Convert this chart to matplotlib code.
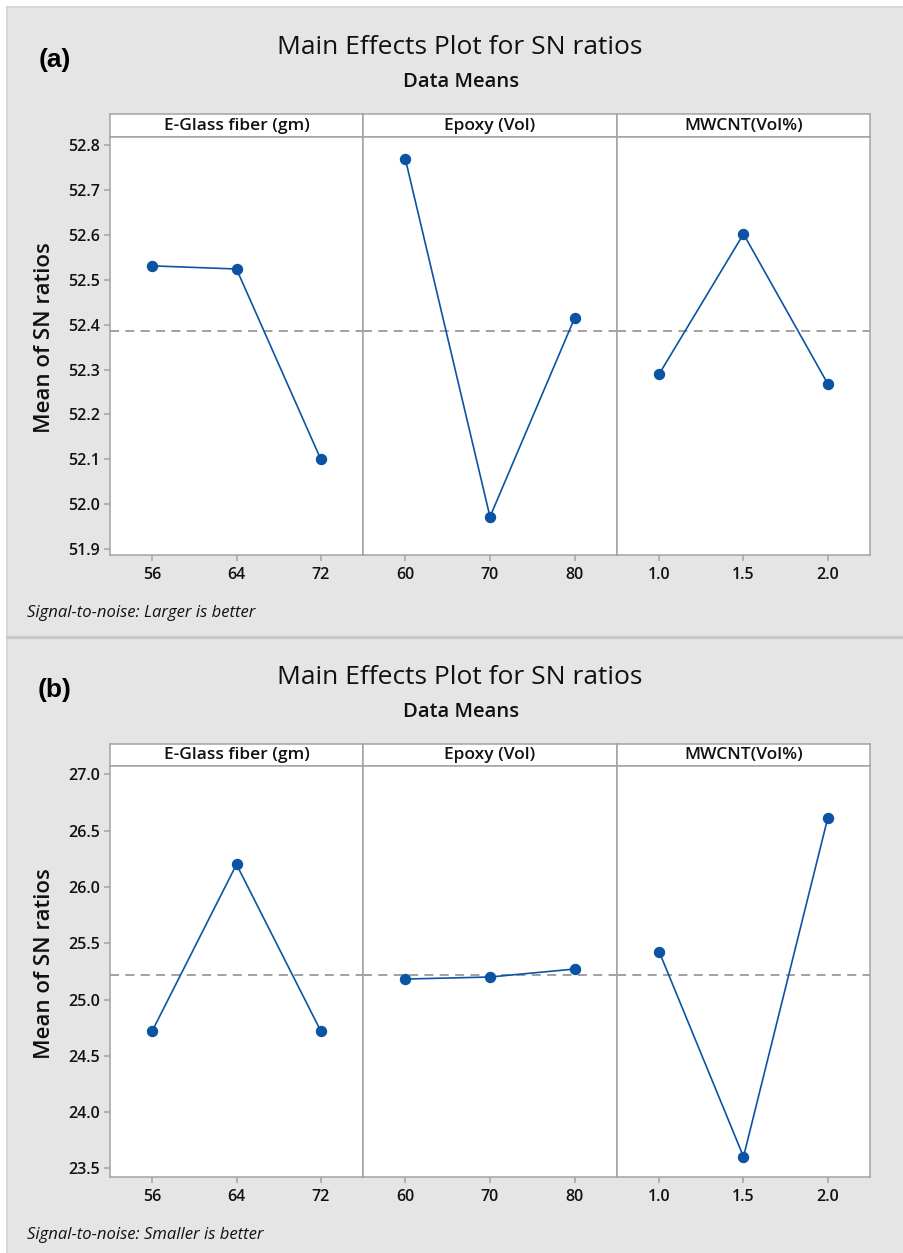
"""
Main effects plots for SN ratios (Taguchi design): E-Glass fiber, Epoxy, MWCNT.
Two stacked panels, Minitab-style: grey backdrop, strip headers, dashed grand mean.
"""
import numpy as np
import matplotlib
matplotlib.use("Agg")
import matplotlib.pyplot as plt
from matplotlib.lines import Line2D
from matplotlib.patches import Rectangle

plt.rcParams["font.family"] = ["Open Sans", "DejaVu Sans"]

FACTORS = ["E-Glass fiber (gm)", "Epoxy (Vol)", "MWCNT(Vol%)"]
LEVELS = [["56", "64", "72"], ["60", "70", "80"], ["1.0", "1.5", "2.0"]]

# (a) larger is better
SN_A_EGLASS = [52.531, 52.524, 52.100]
SN_A_EPOXY = [52.769, 51.972, 52.415]
SN_A_MWCNT = [52.290, 52.602, 52.268]
YTICKS_A = [51.9, 52.0, 52.1, 52.2, 52.3, 52.4, 52.5, 52.6, 52.7, 52.8]
YLIM_A = (51.887, 52.818)

# (b) smaller is better
SN_B_EGLASS = [24.72, 26.20, 24.72]
SN_B_EPOXY = [25.182, 25.200, 25.271]
SN_B_MWCNT = [25.425, 23.604, 26.615]
YTICKS_B = [23.5, 24.0, 24.5, 25.0, 25.5, 26.0, 26.5, 27.0]
YLIM_B = (23.424, 27.074)

W, H = 904, 1253
BG = "#e5e5e5"
FRAME = "#a3a3a3"
BLUE = "#0b54a4"
TXT = "#111111"


def fx(px):
    return px / W


def fy(py):
    return 1 - py / H


def draw_panel(fig, tag, series, yticks, ylim, top, strip_bot, bottom, title_y, foot_y, footnote):
    cols = [110, 363, 617, 870]
    grand = float(np.mean(np.concatenate([np.asarray(s) for s in series])))

    for i, (name, levels, vals) in enumerate(zip(FACTORS, LEVELS, series)):
        x0, x1 = cols[i], cols[i + 1]

        # strip header
        hdr = fig.add_axes([fx(x0), fy(strip_bot), fx(x1) - fx(x0), fy(top) - fy(strip_bot)])
        hdr.set_facecolor("white")
        hdr.set_xticks([])
        hdr.set_yticks([])
        for sp in hdr.spines.values():
            sp.set_color(FRAME)
            sp.set_linewidth(1.1)
        hdr.text(0.5, 0.48, name, ha="center", va="center", fontsize=12.5,
                 fontweight=600, color=TXT, transform=hdr.transAxes)

        ax = fig.add_axes([fx(x0), fy(bottom), fx(x1) - fx(x0), fy(strip_bot) - fy(bottom)])
        ax.set_facecolor("white")
        pos = np.arange(len(levels))
        ax.axhline(grand, color="#9a9a9a", lw=1.3, ls=(0, (5, 3.5)), zorder=1)
        ax.plot(pos, vals, color=BLUE, lw=1.2, marker="o", ms=7.2,
                mfc=BLUE, mec=BLUE, zorder=3)
        ax.set_xlim(-0.5, len(levels) - 0.5)
        ax.set_ylim(*ylim)
        ax.set_xticks(pos)
        ax.set_xticklabels(levels)
        ax.tick_params(axis="x", length=4, width=1.1, color=FRAME, pad=4.5,
                       labelsize=11.5, labelcolor=TXT)
        for lab in ax.get_xticklabels():
            lab.set_fontweight(600)
        if i == 0:
            ax.set_yticks(yticks)
            ax.set_yticklabels([f"{t:.1f}" for t in yticks])
            ax.tick_params(axis="y", length=4, width=1.1, color=FRAME, pad=3,
                           labelsize=11.5, labelcolor=TXT)
            for lab in ax.get_yticklabels():
                lab.set_fontweight(600)
        else:
            ax.set_yticks([])
        for sp in ax.spines.values():
            sp.set_color(FRAME)
            sp.set_linewidth(1.1)

    fig.text(fx(45), fy((strip_bot + bottom) / 2 - 8), "Mean of SN ratios", rotation=90,
             ha="center", va="center", fontsize=16, fontweight=600, color=TXT)
    fig.text(fx(460), fy(title_y), "Main Effects Plot for SN ratios", ha="center",
             va="center", fontsize=19, color=TXT)
    fig.text(fx(461), fy(title_y + 34), "Data Means", ha="center", va="center",
             fontsize=14.5, fontweight=600, color=TXT)
    fig.text(fx(55), fy(title_y + 12), tag, ha="center", va="center", fontsize=19,
             fontweight="bold", family=["Liberation Sans", "DejaVu Sans"], color="black")
    fig.text(fx(27), fy(foot_y), footnote, ha="left", va="center", fontsize=12,
             style="italic", color=TXT)


fig = plt.figure(figsize=(W / 100, H / 100), dpi=100, facecolor="white")

# grey backdrop with thin border and panel separator
fig.patches.append(Rectangle((fx(7), 0), 1 - fx(7), fy(7), transform=fig.transFigure,
                             facecolor=BG, edgecolor="none", zorder=-10))
fig.add_artist(Line2D([fx(7), 1], [fy(7), fy(7)], color="#d2d2d2", lw=1.2))
fig.add_artist(Line2D([fx(7), fx(7)], [0, fy(7)], color="#d2d2d2", lw=1.2))
fig.add_artist(Line2D([fx(7), 1], [fy(637), fy(637)], color="#c8c8c8", lw=2.3))

draw_panel(fig, "(a)", [SN_A_EGLASS, SN_A_EPOXY, SN_A_MWCNT], YTICKS_A, YLIM_A,
           top=114, strip_bot=137, bottom=555, title_y=48, foot_y=613,
           footnote="Signal-to-noise: Larger is better")
draw_panel(fig, "(b)", [SN_B_EGLASS, SN_B_EPOXY, SN_B_MWCNT], YTICKS_B, YLIM_B,
           top=744, strip_bot=766, bottom=1177, title_y=678, foot_y=1235,
           footnote="Signal-to-noise: Smaller is better")

fig.savefig("out.png", dpi=100, facecolor="white")
plt.close(fig)
